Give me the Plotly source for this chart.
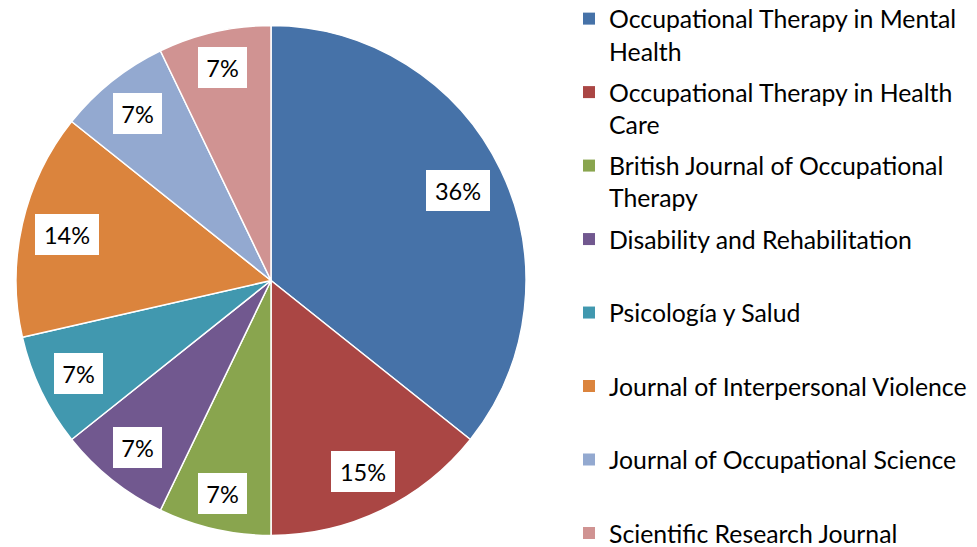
import math
import plotly.graph_objects as go

# the page body adds an 8px margin, so the figure is 8px smaller than the window
OFF = 8
W, H = 977 - OFF, 547 - OFF

journals = [
    "Occupational Therapy in Mental Health",
    "Occupational Therapy in Health Care",
    "British Journal of Occupational Therapy",
    "Disability and Rehabilitation",
    "Psicología y Salud",
    "Journal of Interpersonal Violence",
    "Journal of Occupational Science",
    "Scientific Research Journal",
]
legend_text = [
    "Occupational Therapy in Mental<br>Health",
    "Occupational Therapy in Health<br>Care",
    "British Journal of Occupational<br>Therapy",
    "Disability and Rehabilitation<br> ",
    "Psicología y Salud<br> ",
    "Journal of Interpersonal Violence<br> ",
    "Journal of Occupational Science<br> ",
    "Scientific Research Journal<br> ",
]
counts = [5, 2, 1, 1, 1, 2, 1, 1]
pct_labels = ["36%", "15%", "7%", "7%", "7%", "14%", "7%", "7%"]
colors = ["#4672A8", "#AA4644", "#89A54E", "#71588F",
          "#4198AF", "#DB843D", "#93A9D0", "#D09392"]

# pie geometry (figure pixels)
cx, cy, R = 271 - OFF, 280.5 - OFF, 255

fig = go.Figure()
fig.add_trace(go.Pie(
    labels=journals,
    values=counts,
    sort=False,
    direction="clockwise",
    rotation=0,
    marker=dict(colors=colors, line=dict(color="white", width=1.5)),
    textinfo="none",
    hoverinfo="label+percent",
    showlegend=False,
    domain=dict(x=[(cx - R) / W, (cx + R) / W],
                y=[1 - (cy + R) / H, 1 - (cy - R) / H]),
))

# legend entries (one legend group per journal so the entries can be spaced)
for name, txt, col in zip(journals, legend_text, colors):
    fig.add_trace(go.Scatter(
        x=[None], y=[None], mode="markers", name=txt,
        legendgroup=name, hoverinfo="skip",
        marker=dict(symbol="square", size=12, color=col),
    ))

# data labels in white boxes; each box sits inside its slice with its
# outer corner a fixed distance inside the rim
total = sum(counts)
cum = 0
Rc = R - 10
for v, t in zip(counts, pct_labels):
    mid = (cum + v / 2) / total * 2 * math.pi
    cum += v
    bw = 49 + 15 * (len(t) - 2)
    bh = 41
    ux, uy = math.sin(mid), -math.cos(mid)
    sx = 1 if ux >= 0 else -1
    sy = 1 if uy >= 0 else -1
    b = ux * sx * bw / 2 + uy * sy * bh / 2
    c = (bw / 2) ** 2 + (bh / 2) ** 2 - Rc ** 2
    d = -b + math.sqrt(b * b - c)
    px = cx + d * ux
    py = cy + d * uy
    fig.add_annotation(
        x=px / W, y=1 - py / H, xref="paper", yref="paper",
        xanchor="center", yanchor="middle",
        text=t, showarrow=False,
        font=dict(family="Lato", size=23.5, color="black"),
        bgcolor="white", borderpad=0, borderwidth=0,
        width=bw, height=bh,
    )

fig.update_layout(
    width=W, height=H,
    margin=dict(l=0, r=0, t=0, b=0, autoexpand=False),
    paper_bgcolor="white",
    plot_bgcolor="white",
    xaxis=dict(visible=False),
    yaxis=dict(visible=False),
    showlegend=True,
    legend=dict(
        x=(569 - OFF) / W, y=1 + 12 / H, xanchor="left", yanchor="top",
        font=dict(family="Lato", size=24.8, color="black"),
        valign="top",
        traceorder="grouped",
        tracegroupgap=6,
        itemwidth=30,
        maxheight=900,
        bgcolor="rgba(0,0,0,0)",
    ),
)

fig.write_html("out.html")
